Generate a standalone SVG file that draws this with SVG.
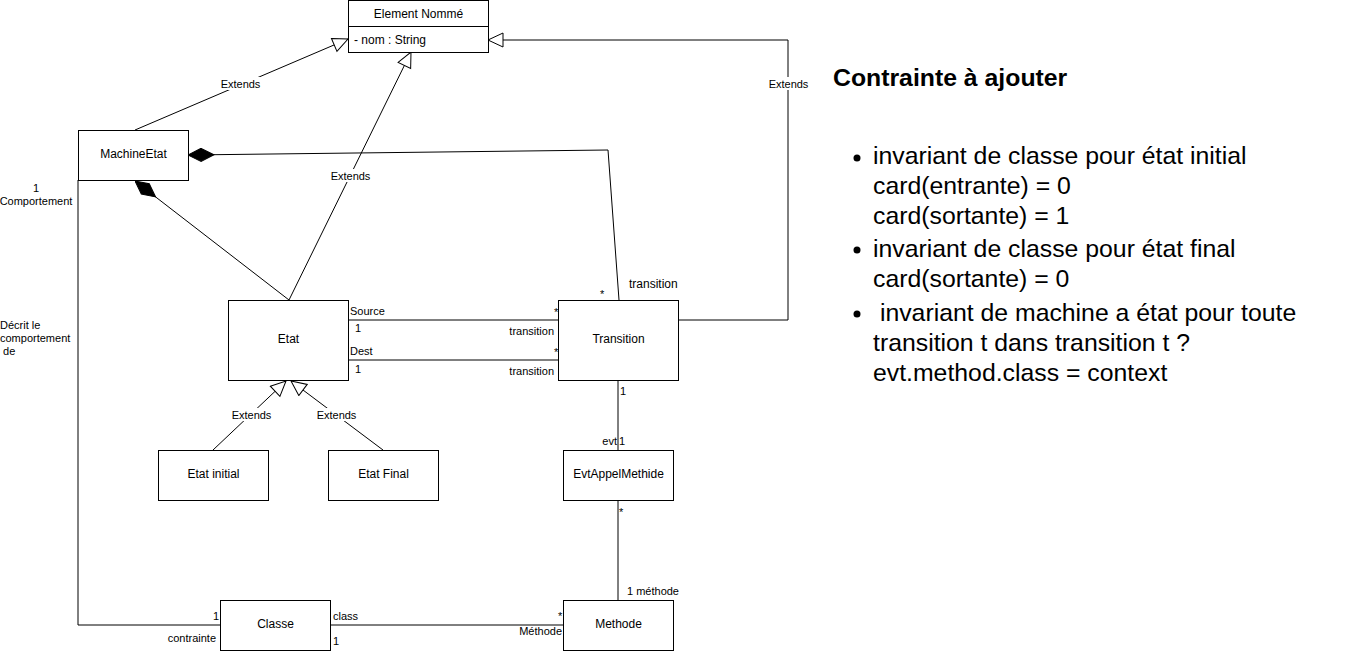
<svg xmlns="http://www.w3.org/2000/svg" width="1349" height="651" viewBox="0 0 1349 651">
<style>
  .box { fill: #ffffff; stroke: #000000; stroke-width: 1; }
  .edge { fill: none; stroke: #000000; stroke-width: 1; }
  .lbl { font-family: "Liberation Sans", Arial, Helvetica, sans-serif; font-size: 12px; fill: #000000; }
  .el { font-family: "Liberation Sans", Arial, Helvetica, sans-serif; font-size: 11px; fill: #000000; }
  .bg { fill: #ffffff; stroke: none; }
  .big { font-family: "Liberation Sans", Arial, Helvetica, sans-serif; font-size: 24.8px; fill: #000000; }
  .head { font-family: "Liberation Sans", Arial, Helvetica, sans-serif; font-size: 24.8px; font-weight: bold; fill: #000000; }
</style>
<defs>
  <marker id="tri" markerUnits="userSpaceOnUse" markerWidth="18" markerHeight="16" refX="16" refY="7.5" orient="auto">
    <path d="M1,0.5 L16,7.5 L1,14.5 Z" fill="#ffffff" stroke="#000000" stroke-width="1"/>
  </marker>
  <marker id="dia" markerUnits="userSpaceOnUse" markerWidth="28" markerHeight="16" refX="0" refY="7" orient="auto">
    <path d="M0,7 L13,0.5 L26,7 L13,13.5 Z" fill="#000000" stroke="#000000" stroke-width="1"/>
  </marker>
</defs>
<rect width="1349" height="651" fill="#ffffff"/>

<g id="connectors">
  <line class="edge" x1="135" y1="130" x2="348" y2="39" marker-end="url(#tri)"/>
  <line class="edge" x1="289" y1="300" x2="411" y2="52" marker-end="url(#tri)"/>
  <polyline class="edge" points="678,320 788,320 788,40 488,40" marker-end="url(#tri)"/>
  <polyline class="edge" points="188,155 608,150 619,300" marker-start="url(#dia)"/>
  <line class="edge" x1="135" y1="181" x2="289" y2="300" marker-start="url(#dia)"/>
  <line class="edge" x1="348" y1="320" x2="558" y2="320"/>
  <line class="edge" x1="348" y1="360" x2="558" y2="360"/>
  <line class="edge" x1="213" y1="450" x2="286" y2="381" marker-end="url(#tri)"/>
  <line class="edge" x1="383" y1="450" x2="291" y2="381" marker-end="url(#tri)"/>
  <line class="edge" x1="618" y1="380" x2="618" y2="450"/>
  <line class="edge" x1="618" y1="500" x2="618" y2="600"/>
  <line class="edge" x1="330" y1="625" x2="563" y2="625"/>
  <polyline class="edge" points="78,180 78,625 220,625"/>

  <rect class="bg" x="220" y="77" width="41" height="13"/>
  <text class="el" x="240.5" y="88" text-anchor="middle">Extends</text>
  <rect class="bg" x="330" y="169" width="41" height="13"/>
  <text class="el" x="350.5" y="180" text-anchor="middle">Extends</text>
  <rect class="bg" x="768" y="77" width="41" height="13"/>
  <text class="el" x="788.5" y="88" text-anchor="middle">Extends</text>
  <rect class="bg" x="231" y="408" width="41" height="13"/>
  <text class="el" x="251.5" y="419" text-anchor="middle">Extends</text>
  <rect class="bg" x="316" y="408" width="41" height="13"/>
  <text class="el" x="336.5" y="419" text-anchor="middle">Extends</text>

  <text class="el" x="36" y="192" text-anchor="middle">1</text>
  <text class="el" x="36" y="205" text-anchor="middle">Comportement</text>
  <text class="el" x="0" y="329">Décrit le</text>
  <text class="el" x="0" y="342">comportement</text>
  <text class="el" x="0" y="355" xml:space="preserve"> de</text>

  <text class="el" x="350" y="315">Source</text>
  <text class="el" x="355" y="332">1</text>
  <text class="el" x="350" y="355">Dest</text>
  <text class="el" x="355" y="373">1</text>
  <text class="el" x="554" y="335" text-anchor="end">transition</text>
  <text class="el" x="554" y="375" text-anchor="end">transition</text>
  <text class="el" x="554" y="316">*</text>
  <text class="el" x="554" y="356">*</text>
  <text class="el" x="600" y="298">*</text>
  <text class="lbl" x="629" y="288">transition</text>

  <text class="el" x="620" y="395">1</text>
  <text class="el" x="617" y="445" text-anchor="end">evt</text>
  <text class="el" x="619" y="445">1</text>
  <text class="el" x="619" y="516">*</text>
  <text class="el" x="627" y="595">1 méthode</text>

  <text class="el" x="219" y="620" text-anchor="end">1</text>
  <text class="el" x="216" y="642" text-anchor="end">contrainte</text>
  <text class="el" x="333" y="620">class</text>
  <text class="el" x="333" y="645">1</text>
  <text class="el" x="558" y="620">*</text>
  <text class="el" x="562" y="635" text-anchor="end">Méthode</text>
</g>

<g id="element-nomme">
  <rect class="box" x="348.5" y="0.5" width="140" height="52"/>
  <line class="edge" x1="348.5" y1="26.5" x2="488.5" y2="26.5"/>
  <text class="lbl" x="418.5" y="18" text-anchor="middle">Element Nommé</text>
  <text class="lbl" x="354" y="44">- nom : String</text>
</g>

<g id="machine-etat">
  <rect class="box" x="78.5" y="130.5" width="110" height="50"/>
  <text class="lbl" x="133.5" y="157.5" text-anchor="middle">MachineEtat</text>
</g>

<g id="etat">
  <rect class="box" x="228.5" y="300.5" width="120" height="80"/>
  <text class="lbl" x="288.5" y="342.5" text-anchor="middle">Etat</text>
</g>

<g id="transition">
  <rect class="box" x="558.5" y="300.5" width="120" height="80"/>
  <text class="lbl" x="618.5" y="342.5" text-anchor="middle">Transition</text>
</g>

<g id="etat-initial">
  <rect class="box" x="158.5" y="450.5" width="110" height="50"/>
  <text class="lbl" x="213.5" y="477.5" text-anchor="middle">Etat initial</text>
</g>

<g id="etat-final">
  <rect class="box" x="328.5" y="450.5" width="110" height="50"/>
  <text class="lbl" x="383.5" y="477.5" text-anchor="middle">Etat Final</text>
</g>

<g id="evt-appel-methide">
  <rect class="box" x="563.5" y="450.5" width="110" height="50"/>
  <text class="lbl" x="618.5" y="477.5" text-anchor="middle">EvtAppelMethide</text>
</g>

<g id="classe">
  <rect class="box" x="220.5" y="600.5" width="110" height="50"/>
  <text class="lbl" x="275.5" y="627.5" text-anchor="middle">Classe</text>
</g>

<g id="methode">
  <rect class="box" x="563.5" y="600.5" width="110" height="50"/>
  <text class="lbl" x="618.5" y="627.5" text-anchor="middle">Methode</text>
</g>

<g id="contraintes">
  <text class="head" x="833" y="86">Contrainte à ajouter</text>
  <circle cx="857" cy="158" r="3.5" fill="#000000"/>
  <circle cx="857" cy="250" r="3.5" fill="#000000"/>
  <circle cx="857" cy="314" r="3.5" fill="#000000"/>
  <text class="big" x="873" y="164">invariant de classe pour état initial</text>
  <text class="big" x="873" y="194">card(entrante) = 0</text>
  <text class="big" x="873" y="224">card(sortante) = 1</text>
  <text class="big" x="873" y="257">invariant de classe pour état final</text>
  <text class="big" x="873" y="287">card(sortante) = 0</text>
  <text class="big" x="873" y="321" xml:space="preserve"> invariant de machine a état pour toute</text>
  <text class="big" x="873" y="351">transition t dans transition t ?</text>
  <text class="big" x="873" y="381">evt.method.class = context</text>
</g>
</svg>
